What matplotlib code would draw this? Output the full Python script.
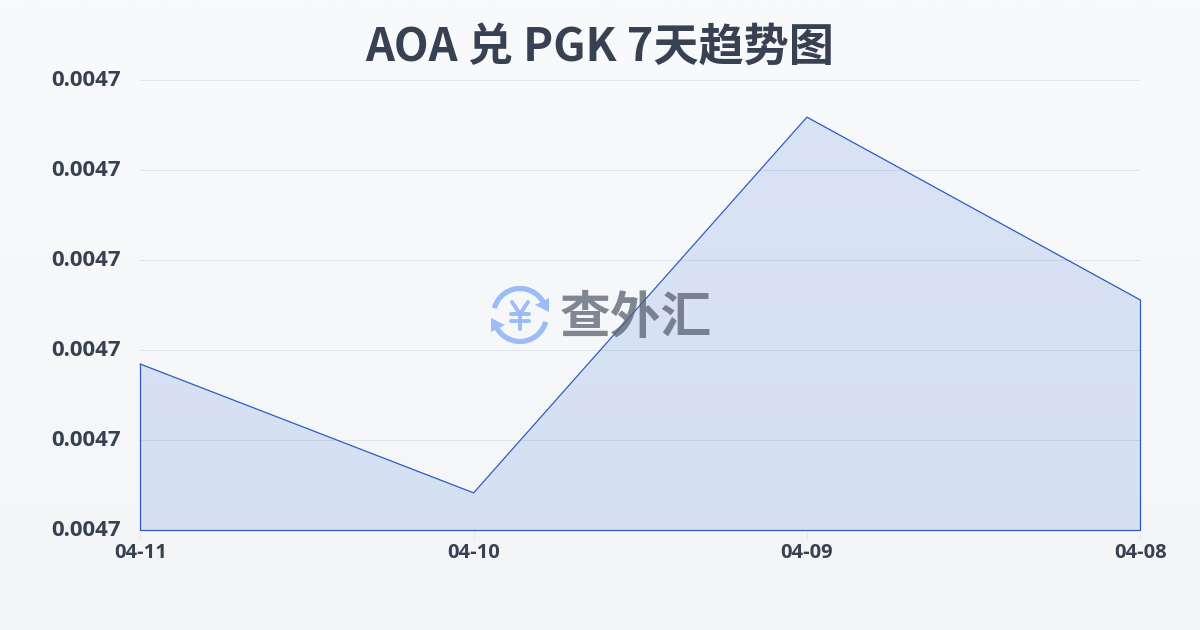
#!/usr/bin/env python3
import numpy as np
import matplotlib
matplotlib.use("Agg")
import matplotlib.pyplot as plt
from matplotlib.patches import Arc, Polygon
from matplotlib.transforms import ScaledTranslation

plt.rcParams["font.family"] = ["Noto Sans CJK SC", "DejaVu Sans"]

dates = ["04-11", "04-10", "04-09", "04-08"]
rates = [0.0046895, 0.0046666, 0.0047334, 0.0047009]
y_ticks = [0.00466, 0.004676, 0.004692, 0.004708, 0.004724, 0.00474]

TEXT = "#374151"
LINE = "#2a5cc4"
W, H = 1200, 630

fig = plt.figure(figsize=(12, 6.3), dpi=100)

# page background: soft vertical gradient
bg = fig.add_axes([0, 0, 1, 1], zorder=0)
bg.imshow(np.linspace(0, 1, 256).reshape(-1, 1), aspect="auto", extent=[0, W, H, 0],
          cmap=matplotlib.colors.LinearSegmentedColormap.from_list("bg", ["#f9fafc", "#f3f5f7"]))
bg.axis("off")

# main chart
ax = fig.add_axes([140.3 / W, 1 - 530 / H, 1000 / W, 450 / H], zorder=1)
ax.patch.set_alpha(0)
x = np.arange(len(dates))
ax.fill_between(x, rates, y_ticks[0], color="#2c62d8", alpha=0.145, lw=0, zorder=2)
ax.plot(x, rates, color=LINE, lw=0.9, zorder=4, clip_on=False)
ax.plot([0, 0, 3, 3], [rates[0], y_ticks[0], y_ticks[0], rates[3]], color=LINE, lw=0.9, zorder=4, clip_on=False)

ax.set_xlim(0, 3)
ax.set_ylim(y_ticks[0], y_ticks[-1])
ax.set_xticks(x)
ax.set_xticklabels(dates, fontsize=14.5, fontweight="bold", color=TEXT, family="Open Sans")
ax.set_yticks(y_ticks)
ax.set_yticklabels([f"{v:.4f}" for v in y_ticks], fontsize=16, fontweight="bold", color=TEXT, family="Open Sans")
ax.tick_params(axis="x", length=7, width=0.6, color="#e5e7eb", pad=2)
ax.tick_params(axis="y", length=0, pad=14)
# y labels sit a little above their gridlines
nudge = ScaledTranslation(0, 2 / 100, fig.dpi_scale_trans)
for lab in ax.get_yticklabels():
    lab.set_transform(lab.get_transform() + nudge)
ax.grid(axis="y", color="#d9dde5", lw=0.7, alpha=0.75, zorder=1)
ax.set_axisbelow(True)
for s in ax.spines.values():
    s.set_visible(False)

fig.text(0.5, 1 - 48 / H, "AOA 兑 PGK 7天趋势图", ha="center", va="center",
         fontsize=32.5, fontweight="bold", color=TEXT)

# watermark logo, in pixel coordinates
wm = fig.add_axes([0, 0, 1, 1], zorder=3)
wm.set_xlim(0, W)
wm.set_ylim(H, 0)
wm.axis("off")
BLUE = "#9cbcf8"
cx, cy = 520, 315
wm.add_patch(Arc((cx, cy), 53, 53, theta1=195, theta2=335, color=BLUE, lw=3.8))
wm.add_patch(Arc((cx, cy), 53, 53, theta1=15, theta2=160, color=BLUE, lw=3.8))
wm.add_patch(Polygon([(549, 298), (549, 312), (535, 305)], color=BLUE, lw=0))
wm.add_patch(Polygon([(491, 318), (491, 332), (505, 325)], color=BLUE, lw=0))
# yen sign drawn with strokes
for seg in [[(512, 302), (520, 314)], [(528, 302), (520, 314)], [(520, 314), (520, 329)],
            [(511, 314), (529, 314)], [(511, 321), (529, 321)]]:
    wm.plot(*zip(*seg), color=BLUE, lw=2.8, solid_capstyle="round")
wm.text(636, 319, "查外汇", ha="center", va="center", fontsize=36.5, fontweight="bold",
        color="#596170", alpha=0.75)

fig.savefig("out.png", dpi=100)
